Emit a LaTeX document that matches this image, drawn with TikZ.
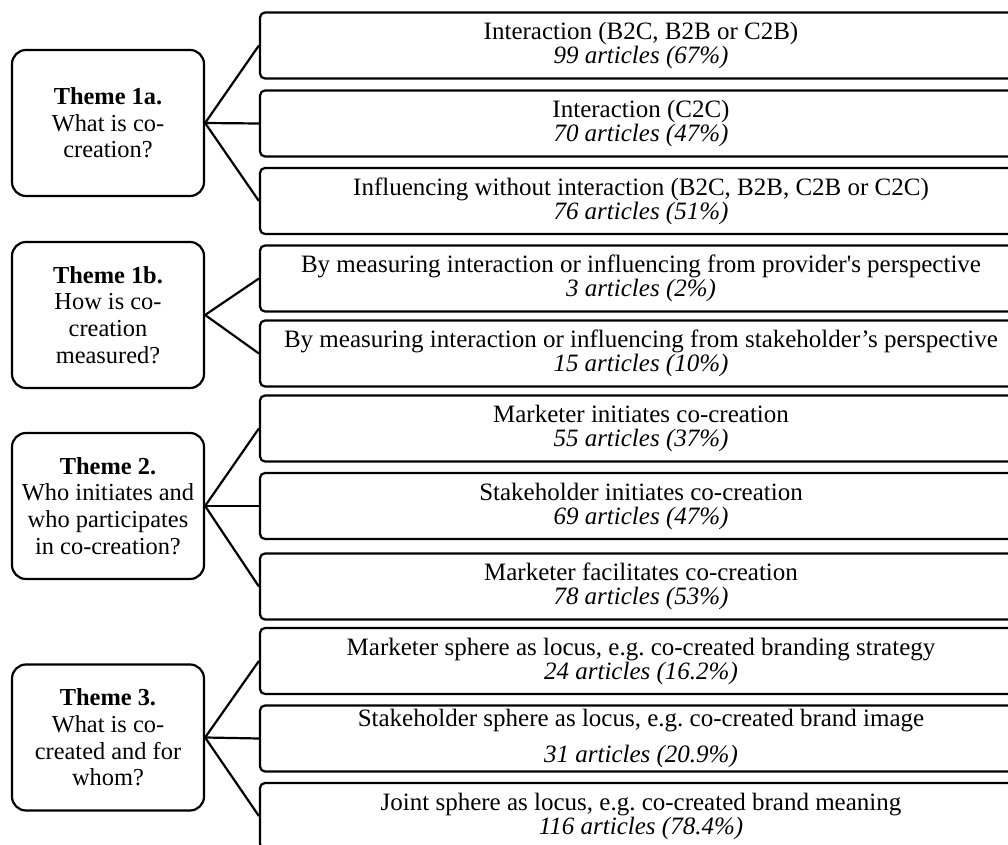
\documentclass[tikz,border=0pt]{standalone}
\usepackage{fontspec}
\setmainfont{Liberation Serif}
\frenchspacing
\usetikzlibrary{positioning}

\begin{document}
\begin{tikzpicture}[x=0.5pt, y=-0.5pt,
        themebox/.style={draw, line width=1.1pt, rounded corners=7pt, minimum width=96pt, minimum height=73pt, inner sep=0pt, align=center, font=\fontsize{12.2}{13.3}\selectfont},
        itembox/.style={draw, line width=1.1pt, rounded corners=2.5pt, minimum width=381pt, minimum height=33pt, inner sep=0pt, align=center, font=\fontsize{12.5}{12}\selectfont},
        link/.style={line width=1.1pt}]
        \useasboundingbox (0,0) rectangle (1008,845);
        \clip (0,0) rectangle (1008,845);

        % themes
        \node[themebox] (t1a) at (108,123) {\textbf{Theme 1a.}\\What is co-\\creation?};
        \node[themebox] (t1b) at (108,315) {\textbf{Theme 1b.}\\How is co-\\creation\\measured?};
        \node[themebox] (t2) at (108,506) {\textbf{Theme 2.}\\Who initiates and\\who participates\\in co-creation?};
        \node[themebox] (t3) at (108,737.5) {\textbf{Theme 3.}\\What is co-\\created and for\\whom?};

        % findings
        \node[itembox] (i1) at (641,45.5) {Interaction (B2C, B2B or C2B)\\\textit{99 articles (67\%)}};
        \node[itembox] (i2) at (641,123.5) {Interaction (C2C)\\\textit{70 articles (47\%)}};
        \node[itembox] (i3) at (641,201) {Influencing without interaction (B2C, B2B, C2B or C2C)\\\textit{76 articles (51\%)}};

        \node[itembox] (i4) at (641,278.5) {By measuring interaction or influencing from provider\textquotesingle s perspective\\\textit{3 articles (2\%)}};
        \node[itembox] (i5) at (641,353.5) {By measuring interaction or influencing from stakeholder's perspective\\\textit{15 articles (10\%)}};

        \node[itembox] (i6) at (641,428.5) {Marketer initiates co-creation\\\textit{55 articles (37\%)}};
        \node[itembox] (i7) at (641,506) {Stakeholder initiates co-creation\\\textit{69 articles (47\%)}};
        \node[itembox] (i8) at (641,586.5) {Marketer facilitates co-creation\\\textit{78 articles (53\%)}};

        \node[itembox] (i9) at (641,661) {Marketer sphere as locus, e.g. co-created branding strategy\\\textit{24 articles (16.2\%)}};
        \node[itembox] (i10) at (641,738.5) {Stakeholder sphere as locus, e.g. co-created brand image\\[6pt]\textit{31 articles (20.9\%)}};
        \node[itembox] (i11) at (641,816) {Joint sphere as locus, e.g. co-created brand meaning\\\textit{116 articles (78.4\%)}};

        % links
        \draw[link] (t1a.east) -- (i1.west);
        \draw[link] (t1a.east) -- (i2.west);
        \draw[link] (t1a.east) -- (i3.west);

        \draw[link] (t1b.east) -- (i4.west);
        \draw[link] (t1b.east) -- (i5.west);

        \draw[link] (t2.east) -- (i6.west);
        \draw[link] (t2.east) -- (i7.west);
        \draw[link] (t2.east) -- (i8.west);

        \draw[link] (t3.east) -- (i9.west);
        \draw[link] (t3.east) -- (i10.west);
        \draw[link] (t3.east) -- (i11.west);
    \end{tikzpicture}
\end{document}
